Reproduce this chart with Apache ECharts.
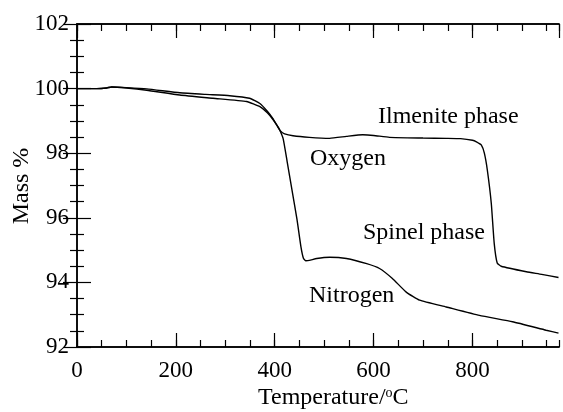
<!DOCTYPE html>
<html>
<head>
<meta charset="utf-8">
<script src="https://cdn.jsdelivr.net/npm/echarts@6/dist/echarts.min.js"></script>
<style>
  html, body { margin: 0; padding: 0; background: #fff; }
  #chart { width: 563px; height: 412px; }
</style>
</head>
<body>
<div id="chart"></div>
<script>
// temperature (°C) / mass (%)
const oxygenT = [0, 40, 60, 70, 100, 141, 208, 260, 309, 349, 370, 385, 396, 405, 412, 420, 437, 470, 511, 545, 578, 600, 632, 700, 747, 776, 800, 808, 818, 824, 830, 838, 844, 850, 858, 909, 940, 974];
const oxygenMass = [100.0, 100.0, 100.02, 100.05, 100.03, 99.99, 99.87, 99.82, 99.78, 99.70, 99.54, 99.3, 99.08, 98.85, 98.68, 98.6, 98.54, 98.49, 98.46, 98.52, 98.57, 98.55, 98.49, 98.47, 98.46, 98.45, 98.40, 98.35, 98.25, 98.0, 97.48, 96.45, 95.2, 94.6, 94.5, 94.33, 94.25, 94.15];

const nitrogenT = [0, 40, 60, 70, 100, 141, 208, 275, 343, 370, 385, 396, 405, 410, 417, 425, 435, 445, 453, 458, 463, 470, 485, 511, 545, 586, 612, 638, 666, 693, 747, 814, 881, 949, 974];
const nitrogenMass = [100.0, 100.0, 100.02, 100.05, 100.02, 99.95, 99.80, 99.70, 99.60, 99.44, 99.25, 99.05, 98.85, 98.72, 98.45, 97.75, 96.85, 95.95, 95.1, 94.75, 94.67, 94.68, 94.74, 94.78, 94.74, 94.58, 94.43, 94.12, 93.7, 93.45, 93.24, 92.98, 92.78, 92.52, 92.43];

const xMin = 0, xMax = 975, xMajor = 200, xMinor = 50;
const yMin = 92, yMax = 102, yMajor = 2;

const labels = [
    { text: 'Ilmenite phase', x: 378, y: 117 },
    { text: 'Oxygen', x: 310, y: 159 },
    { text: 'Spinel phase', x: 363, y: 233 },
    { text: 'Nitrogen', x: 309, y: 296 }
];

const font = 'Liberation Serif, Times New Roman, serif';
const chart = echarts.init(document.getElementById('chart'));

const pair = (xs, ys) => xs.map((x, i) => [x, ys[i]]);

const xAxisBase = {
    type: 'value', min: xMin, max: xMax,
    axisLine: { show: true, lineStyle: { color: '#000', width: 1.5 } },
    splitLine: { show: false },
    axisLabel: { show: false }
};
const yAxisBase = {
    type: 'value', min: yMin, max: yMax, interval: yMajor,
    axisLine: { show: true, lineStyle: { color: '#000', width: 1.5 } },
    splitLine: { show: false },
    axisTick: { inside: true, length: 14, lineStyle: { color: '#000', width: 1.2 } },
    minorTick: { show: true, splitNumber: 4, length: 7, lineStyle: { color: '#000', width: 1.2 } }
};

const option = {
    animation: false,
    backgroundColor: '#fff',
    grid: { left: 77, top: 24, right: 4, bottom: 65 },
    xAxis: [
        Object.assign({}, xAxisBase, {
            position: 'bottom', interval: xMajor,
            axisTick: { inside: true, length: 14, lineStyle: { color: '#000', width: 1.2 } },
            axisLabel: { show: true, showMaxLabel: false, margin: 12, color: '#000', fontFamily: font, fontSize: 23 }
        }),
        Object.assign({}, xAxisBase, {
            position: 'bottom', interval: xMinor,
            axisTick: { inside: true, length: 7, lineStyle: { color: '#000', width: 1.2 } }
        }),
        Object.assign({}, xAxisBase, {
            position: 'top', interval: xMajor,
            axisTick: { inside: true, length: 14, lineStyle: { color: '#000', width: 1.2 } }
        }),
        Object.assign({}, xAxisBase, {
            position: 'top', interval: xMinor,
            axisTick: { inside: true, length: 7, lineStyle: { color: '#000', width: 1.2 } }
        })
    ],
    yAxis: [
        Object.assign({}, yAxisBase, {
            position: 'left',
            axisLabel: { margin: 8, color: '#000', fontFamily: font, fontSize: 23 }
        }),
        Object.assign({}, yAxisBase, {
            position: 'right',
            axisLabel: { show: false }
        })
    ],
    graphic: [
        {
            type: 'text', left: 258, top: 386,
            style: {
                text: 'Temperature/{s|o}C',
                fill: '#000', font: '24px ' + font,
                rich: { s: { fontSize: 14, fontFamily: font, verticalAlign: 'top', padding: [0, 0, 10, 0] } }
            }
        },
        {
            type: 'text', x: 22, y: 186, rotation: Math.PI / 2,
            style: {
                text: 'Mass %', fill: '#000', font: '24px ' + font,
                align: 'center', verticalAlign: 'middle'
            }
        }
    ].concat(labels.map(l => ({
        type: 'text', x: l.x, y: l.y,
        style: { text: l.text, fill: '#000', font: '24px ' + font, verticalAlign: 'middle' }
    }))),
    series: [
        {
            name: 'Oxygen', type: 'line', xAxisIndex: 0, yAxisIndex: 0,
            data: pair(oxygenT, oxygenMass),
            showSymbol: false, smooth: 0.15,
            lineStyle: { color: '#000', width: 1.4 }
        },
        {
            name: 'Nitrogen', type: 'line', xAxisIndex: 0, yAxisIndex: 0,
            data: pair(nitrogenT, nitrogenMass),
            showSymbol: false, smooth: 0.15,
            lineStyle: { color: '#000', width: 1.4 }
        }
    ]
};

chart.setOption(option);
</script>
</body>
</html>
